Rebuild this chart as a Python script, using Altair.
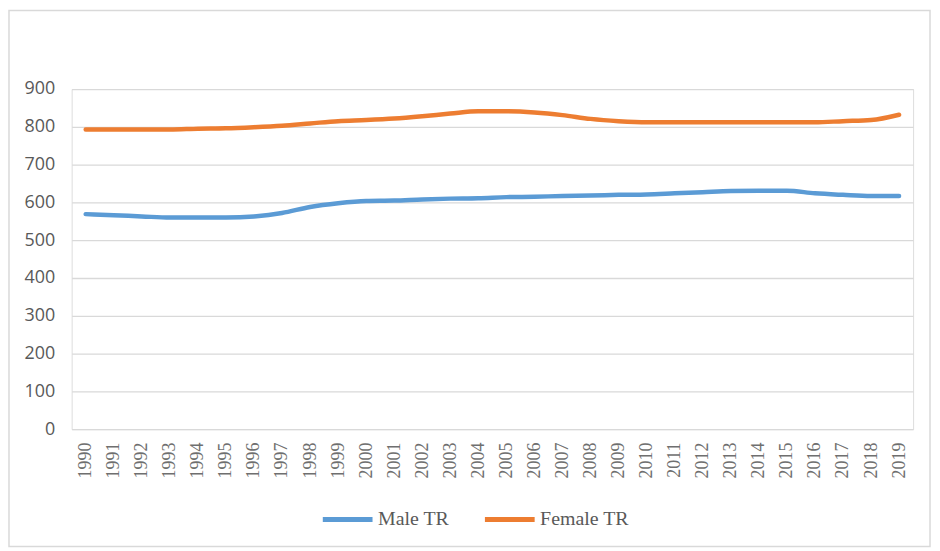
import altair as alt
import pandas as pd

years = list(range(1990, 2020))
male_tr = [569, 566, 563, 560, 560, 560, 563, 572, 588, 598, 604, 605, 608, 610, 611,
           614, 615, 617, 618, 620, 621, 624, 627, 630, 631, 631, 624, 620, 617, 617]
female_tr = [793, 793, 793, 793, 795, 796, 799, 803, 809, 815, 818, 822, 828, 835, 841,
             841, 838, 831, 821, 815, 812, 812, 812, 812, 812, 812, 812, 815, 818, 832]
series_names = ["Male TR", "Female TR"]
colors = ["#5B9BD5", "#ED7D31"]
y_ticks = [0, 100, 200, 300, 400, 500, 600, 700, 800, 900]

rows = []
for name, vals in zip(series_names, [male_tr, female_tr]):
    for yr, v in zip(years, vals):
        rows.append({"year": str(yr), "value": v, "series": name})
df = pd.DataFrame(rows)

lines = alt.Chart(df).mark_line(strokeWidth=4.5, interpolate="monotone", strokeCap="round").encode(
    x=alt.X("year:O", sort=[str(y) for y in years],
            scale=alt.Scale(type="point", padding=0.5),
            axis=alt.Axis(title=None, labelAngle=-90, labelAlign="right", labelBaseline="middle",
                          labelFont="Liberation Serif", labelFontSize=18, labelColor="#6f6f6f",
                          labelPadding=13, ticks=False, domain=False, grid=False)),
    y=alt.Y("value:Q", scale=alt.Scale(domain=[0, 900], nice=False),
            axis=alt.Axis(title=None, values=y_ticks, labelFont="Open Sans", labelFontSize=18,
                          labelColor="#595959", labelPadding=17, ticks=False, domain=False,
                          grid=True, gridColor="#d9d9d9", gridWidth=1.3)),
    color=alt.Color("series:N", scale=alt.Scale(domain=series_names, range=colors),
                    legend=alt.Legend(title=None, orient="none", direction="horizontal",
                                      legendX=250, legendY=405, padding=0,
                                      symbolType="stroke", symbolSize=2500, symbolStrokeWidth=5,
                                      labelFont="Liberation Serif", labelFontSize=20,
                                      labelColor="#595959", labelOffset=3, columnPadding=25)),
    detail="series:N",
)

frame = alt.Chart(pd.DataFrame({"k": [0]})).mark_rect(
    fill="transparent", stroke="#d9d9d9", strokeWidth=1.5
).encode(x=alt.value(-63), x2=alt.value(863), y=alt.value(-79), y2=alt.value(460))

chart = alt.layer(frame, lines).properties(
    width=846, height=342,
    autosize=alt.AutoSizeParams(type="none"),
    padding={"left": 64, "top": 80, "right": 19, "bottom": 120},
).configure_view(stroke=None).configure(background="white")

chart.save("out.html", embed_options={"renderer": "svg", "actions": False})
